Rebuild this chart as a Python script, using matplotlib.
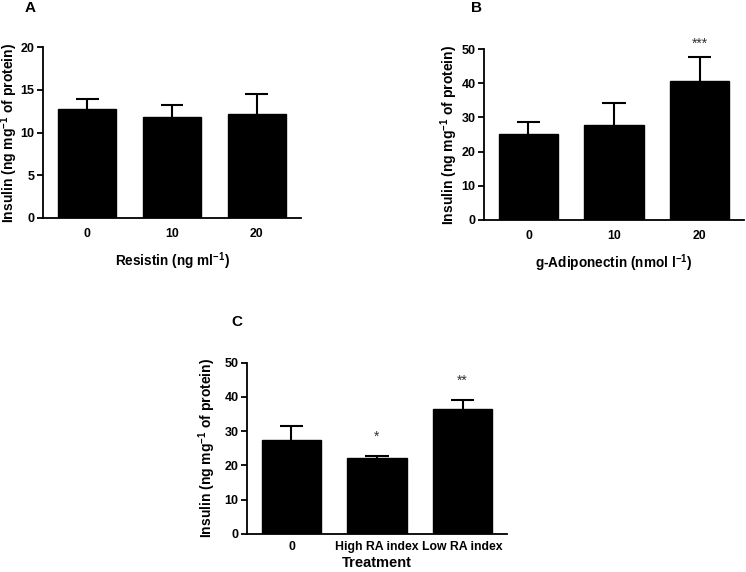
import numpy as np
import matplotlib.pyplot as plt

plt.rcParams['font.family'] = ['Liberation Sans', 'DejaVu Sans']
plt.rcParams['font.weight'] = 'bold'
plt.rcParams['mathtext.fontset'] = 'custom'
plt.rcParams['mathtext.rm'] = 'Liberation Sans:bold'
plt.rcParams['mathtext.default'] = 'rm'

# ---------------------------------------------------------------------------
# Data
# ---------------------------------------------------------------------------
a_labels = ["0", "10", "20"]
a_means = [12.75, 11.8, 12.15]
a_err = [1.2, 1.4, 2.3]
a_marks = ["", "", ""]

b_labels = ["0", "10", "20"]
b_means = [25.1, 27.7, 40.7]
b_err = [3.5, 6.6, 6.9]
b_marks = ["", "", "***"]

c_labels = ["0", "High RA index", "Low RA index"]
c_means = [27.4, 22.2, 36.4]
c_err = [4.0, 0.7, 2.7]
c_marks = ["", "*", "**"]

ylab = "Insulin (ng mg$^{-1}$ of protein)"


def draw_panel(ax, labels, means, err, marks, ymax, ystep, xlabel, mark_off, ylab_x):
    x = np.arange(len(means))
    means = np.asarray(means)
    top = means + np.asarray(err)
    ax.bar(x, means, width=0.69, color="black", edgecolor="black", zorder=2)
    # upper error bars only (GraphPad style)
    ax.vlines(x, means, top, color="black", lw=1.5, zorder=1)
    ax.hlines(top, x - 0.135, x + 0.135, color="black", lw=1.5, zorder=1)
    for xi, t, s in zip(x, top, marks):
        if s:
            ax.text(xi, t + mark_off, s, ha="center", va="center",
                    fontsize=10, fontweight="normal", color="#333333")
    ax.set_xlim(-0.52, 2.52)
    ax.set_ylim(0, ymax)
    ax.set_yticks(np.arange(0, ymax + 0.1, ystep))
    ax.set_xticks(x)
    ax.set_xticklabels(labels, fontsize=8.8, fontweight="bold")
    ax.tick_params(axis="x", length=0, pad=7)
    ax.tick_params(axis="y", length=4, width=1.3, direction="out", labelsize=9, pad=2)
    for t in ax.get_yticklabels():
        t.set_fontweight("bold")
    for side in ["top", "right"]:
        ax.spines[side].set_visible(False)
    for side in ["left", "bottom"]:
        ax.spines[side].set_linewidth(1.3)
    ax.set_ylabel(ylab, fontsize=10, fontweight="bold")
    ax.yaxis.set_label_coords(ylab_x, 0.5)
    ax.set_xlabel(xlabel, fontsize=9.8, fontweight="bold", labelpad=8)


fig = plt.figure(figsize=(7.46, 5.72), dpi=100)

ax_a = fig.add_axes([43 / 746, 354 / 572, 258 / 746, 171 / 572])
draw_panel(ax_a, a_labels, a_means, a_err, a_marks, 20, 5,
           "Resistin (ng ml$^{-1}$)", 1.5, -0.088)

ax_b = fig.add_axes([484 / 746, 352 / 572, 260 / 746, 171 / 572])
draw_panel(ax_b, b_labels, b_means, b_err, b_marks, 50, 10,
           "g-Adiponectin (nmol l$^{-1}$)", 4.0, -0.092)

ax_c = fig.add_axes([247 / 746, 38 / 572, 260 / 746, 171.3 / 572])
draw_panel(ax_c, c_labels, c_means, c_err, c_marks, 50, 10, "Treatment", 5.5, -0.11)
ax_c.xaxis.labelpad = 2
ax_c.xaxis.label.set_fontsize(10.5)
ax_c.tick_params(axis="x", pad=5)

fig.text(30 / 746, 1 - 8 / 572, "A", fontsize=11, fontweight="bold", ha="center", va="center")
fig.text(477 / 746, 1 - 8 / 572, "B", fontsize=11, fontweight="bold", ha="center", va="center")
fig.text(237 / 746, 1 - 322 / 572, "C", fontsize=11, fontweight="bold", ha="center", va="center")

fig.savefig("out.png", dpi=100)
